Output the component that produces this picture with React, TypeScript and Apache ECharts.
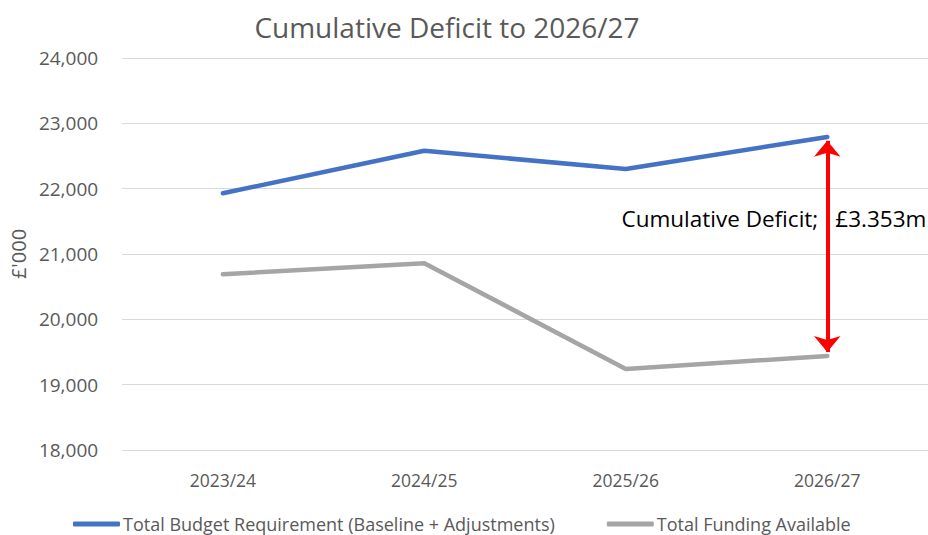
import React, { useEffect, useRef } from "react";
import * as echarts from "echarts";

const categories = ["2023/24", "2024/25", "2025/26", "2026/27"];
const budgetRequirement = [21930, 22580, 22300, 22792];
const fundingAvailable = [20690, 20860, 19240, 19439];
const seriesNames = ["Total Budget Requirement (Baseline + Adjustments)", "Total Funding Available"];
const yTicks = { min: 18000, max: 24000, interval: 1000 };

const FONT = "'Open Sans', 'Noto Sans', sans-serif";
const GREY_TEXT = "#595959";

export default function App() {
  const ref = useRef<HTMLDivElement>(null);
  useEffect(() => {
    if (!ref.current) return;
    const chart = echarts.init(ref.current, undefined, { renderer: "svg" });
    const last = categories.length - 1;
    const deficit = (budgetRequirement[last] - fundingAvailable[last]) / 1000;
    const midVal = 21550;
    chart.setOption({
      animation: false,
      textStyle: { fontFamily: FONT },
      title: {
        text: "Cumulative Deficit to 2026/27",
        left: 442,
        textAlign: "center",
        top: 8,
        textStyle: { fontFamily: FONT, fontSize: 28, fontWeight: "normal", color: GREY_TEXT },
      },
      grid: { left: 122, right: 0, top: 58, bottom: 85, containLabel: false },
      legend: {
        left: 68,
        top: 510,
        icon: "roundRect",
        itemWidth: 47,
        itemHeight: 5,
        itemGap: 52,
        textStyle: { fontFamily: FONT, fontSize: 18, color: GREY_TEXT, padding: [0, 0, 0, -2] },
        data: seriesNames,
      },
      xAxis: {
        type: "category",
        data: categories,
        axisLine: { show: false },
        axisTick: { show: false },
        axisLabel: { fontFamily: FONT, fontSize: 17.5, color: GREY_TEXT, margin: 21 },
      },
      yAxis: {
        type: "value",
        min: yTicks.min,
        max: yTicks.max,
        interval: yTicks.interval,
        name: "£'000",
        nameLocation: "middle",
        nameGap: 92,
        nameRotate: 90,
        nameTextStyle: { fontFamily: FONT, fontSize: 20, color: GREY_TEXT },
        axisLabel: {
          fontFamily: FONT,
          fontSize: 19,
          color: GREY_TEXT,
          margin: 24,
          formatter: (v: number) => v.toLocaleString("en-GB"),
        },
        splitLine: { lineStyle: { color: "#d9d9d9", width: 1 } },
      },
      series: [
        {
          name: seriesNames[0],
          type: "line",
          data: budgetRequirement,
          symbol: "none",
          lineStyle: { color: "#4472C4", width: 4.5, cap: "round" },
          itemStyle: { color: "#4472C4" },
        },
        {
          name: seriesNames[1],
          type: "line",
          data: fundingAvailable,
          symbol: "none",
          lineStyle: { color: "#A5A5A5", width: 4.5, cap: "round" },
          itemStyle: { color: "#A5A5A5" },
          markLine: {
            silent: true,
            symbol: ["arrow", "arrow"],
            symbolSize: [20, 16],
            lineStyle: { color: "#FF0000", width: 4, type: "solid" },
            label: { show: false },
            data: [
              [
                { coord: [categories[last], fundingAvailable[last] + 60] },
                { coord: [categories[last], budgetRequirement[last] - 60] },
              ],
            ],
          },
          markPoint: {
            silent: true,
            symbol: "circle",
            symbolSize: 0,
            data: [
              {
                coord: [categories[last], midVal],
                label: {
                  show: true,
                  position: "left",
                  distance: 9,
                  formatter: "Cumulative Deficit;",
                  fontFamily: FONT,
                  fontSize: 22.5,
                  color: "#000",
                },
              },
              {
                coord: [categories[last], midVal],
                label: {
                  show: true,
                  position: "right",
                  distance: 8,
                  formatter: `£${deficit.toFixed(3)}m`,
                  fontFamily: FONT,
                  fontSize: 22.5,
                  color: "#000",
                },
              },
            ],
          },
        },
      ],
    });
    return () => chart.dispose();
  }, []);
  return <div ref={ref} style={{ width: 928, height: 535, position: "absolute", left: 0, top: 0, background: "#fff" }} />;
}
